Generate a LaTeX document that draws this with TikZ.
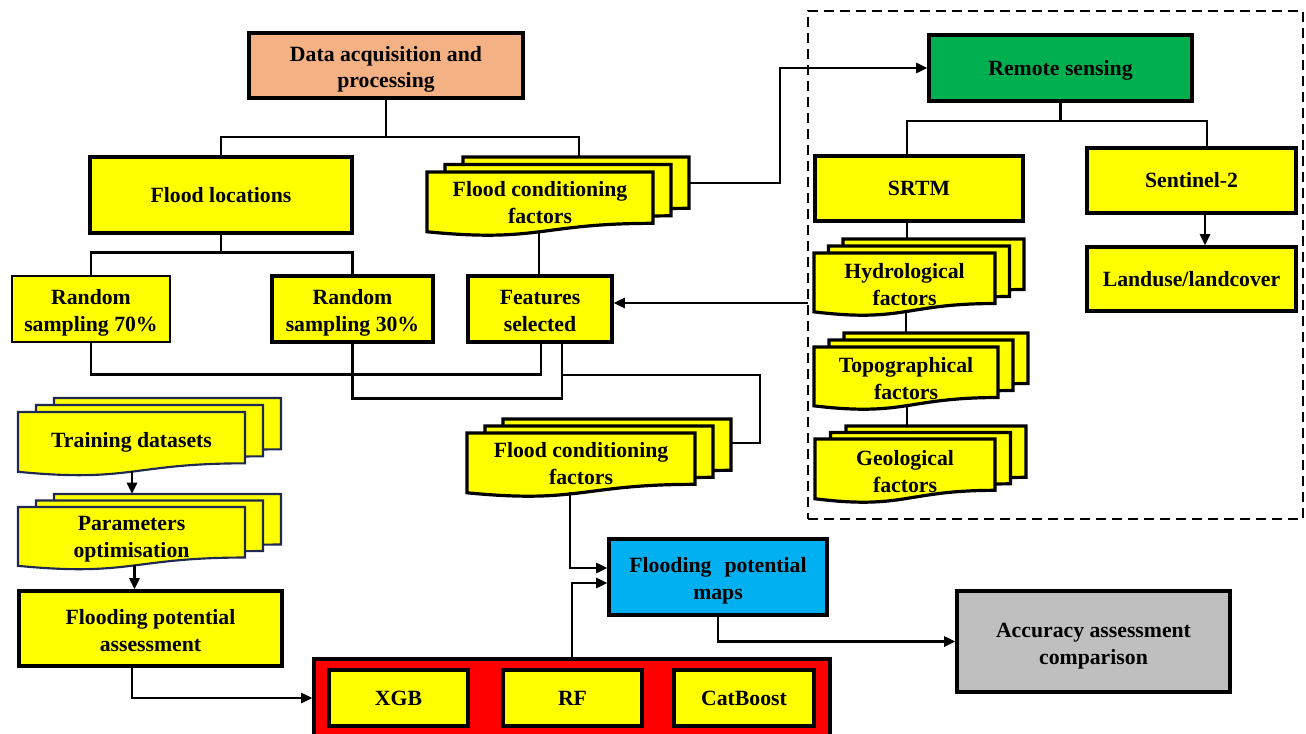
\documentclass[tikz,border=0pt]{standalone}
\usepackage{fontspec}
\setmainfont{Liberation Serif}
\usetikzlibrary{calc,arrows.meta}
\pgfdeclarelayer{docs}
\pgfsetlayers{docs,main}
\definecolor{boxyellow}{RGB}{255,255,0}
\definecolor{peach}{RGB}{244,177,131}
\definecolor{rsgreen}{RGB}{0,176,80}
\definecolor{mapblue}{RGB}{0,176,240}
\definecolor{accgrey}{RGB}{191,191,191}
\definecolor{redbox}{RGB}{255,0,0}
\definecolor{navyline}{RGB}{30,40,80}
\newcommand\linestrut{\rule[-0.216em]{0pt}{1.107em}}
\newcommand\fl{\rule[-0.216em]{0pt}{1.276em}}
% #1 x, #2 top y, #3 w, #4 h, #5 dx, #6 dy, #7 style
\newcommand\docstack[7]{%
  \begin{pgfonlayer}{docs}
  \foreach \k in {2,1,0}{%
    \pgfmathsetmacro\xa{#1+\k*#5}%
    \pgfmathsetmacro\ya{#2+\k*#6}%
    \draw[#7] (\xa,\ya) -- ({\xa+#3},\ya) -- ({\xa+#3},{\ya+0.802*#4})
      .. controls ({\xa+0.5*#3},{\ya+0.802*#4}) and ({\xa+0.5*#3},{\ya+1.1075*#4}) ..
      (\xa,{\ya+0.934*#4}) -- cycle;
  }
  \end{pgfonlayer}}
\begin{document}
\begin{tikzpicture}[x=0.75pt,y=-0.75pt,
  every node/.style={font=\fontsize{16.3}{20}\selectfont\bfseries, align=center, inner sep=0pt,
    execute at begin node=\linestrut, execute at end node=\linestrut},
  box/.style={draw, line width=2.4pt, fill=boxyellow},
  conn/.style={line width=2.1pt},
  arrow/.style={conn, -{Triangle[length=8.5pt,width=7.5pt]}},
  docline/.style={draw, line width=2.4pt, fill=boxyellow, line join=miter},
  docnavy/.style={draw=navyline, line width=1.6pt, fill=boxyellow, line join=miter},
  group/.style={draw, line width=1.3pt, dash pattern=on 7.5pt off 4.5pt},
]
\useasboundingbox (0,0) rectangle (1306,734);

% ---------- nodes ----------
\node[box, fill=peach, minimum width=205.5pt, minimum height=48.75pt] (dap) at (386,65.5) {\fl Data acquisition and\\processing};
\node[box, minimum width=196.5pt, minimum height=57pt] (floc) at (221,195) {Flood locations};
\node[minimum width=169.5pt, minimum height=48pt] (fc1) at (540,201) {\fl Flood conditioning\\factors};

\node[group, minimum width=371.25pt, minimum height=381pt] (rsgroup) at (1055.5,265) {};
\node[box, fill=rsgreen, minimum width=197.25pt, minimum height=49.5pt] (rs) at (1060.5,68) {Remote sensing};
\node[box, minimum width=156pt, minimum height=48.75pt] (srtm) at (919,188.5) {SRTM};
\node[box, minimum width=156.75pt, minimum height=48.75pt] (sent) at (1191.5,180.5) {Sentinel-2};
\node[box, minimum width=156.75pt, minimum height=48pt] (land) at (1191.5,279) {Landuse/landcover};
\node[minimum width=135.75pt, minimum height=47.25pt] (hydro) at (904.5,283) {\fl Hydrological\\factors};
\node[minimum width=138pt, minimum height=47.25pt] (topo) at (906,377) {\fl Topographical\\factors};
\node[minimum width=135pt, minimum height=48pt] (geo) at (905,470) {\fl Geological\\factors};

\node[box, line width=1.8pt, minimum width=118.5pt, minimum height=49.5pt] (rs70) at (91,309) {\fl Random\\sampling 70\%};
\node[box, line width=2.8pt, minimum width=120.75pt, minimum height=49.5pt] (rs30) at (352.5,309) {\fl Random\\sampling 30\%};
\node[box, minimum width=108pt, minimum height=49.5pt] (feat) at (540,309) {\fl Features\\selected};

\node[minimum width=171pt, minimum height=48pt] (fc2) at (581,462) {\fl Flood conditioning\\factors};
\node[minimum width=170.25pt, minimum height=48pt] (train) at (131.5,440.5) {Training datasets};
\node[minimum width=170.25pt, minimum height=47.25pt] (param) at (131.5,535) {\fl Parameters\\optimisation};
\node[box, minimum width=197.25pt, minimum height=56.25pt] (fpa) at (150.5,628.5) {\fl Flooding potential\\assessment};

\node[box, fill=mapblue, minimum width=163.5pt, minimum height=57pt] (fpm) at (718,577) {\fl Flooding\hspace{0.35em} potential\\maps};
\node[box, fill=accgrey, minimum width=204.75pt, minimum height=75.75pt] (acc) at (1093.5,641.5) {\fl Accuracy assessment\\comparison};

\node[box, fill=redbox, minimum width=387pt, minimum height=64.5pt] (red) at (572,702) {};
\node[box, minimum width=104.25pt, minimum height=42pt] (xgb) at (398.5,698) {XGB};
\node[box, minimum width=104.25pt, minimum height=42pt] (rf) at (572.5,698) {RF};
\node[box, minimum width=105pt, minimum height=42pt] (cat) at (744,698) {CatBoost};

% ---------- stacked document shapes ----------
\docstack{427}{172}{226}{64}{18}{-7.5}{docline}
\docstack{467}{433}{228}{64}{18}{-7}{docline}
\docstack{18}{412}{227}{64}{18}{-7}{docnavy}
\docstack{18}{507}{227}{63}{18}{-6.5}{docnavy}
\docstack{814}{253}{181}{63}{14.5}{-7}{docline}
\docstack{814}{347}{184}{63}{15}{-7}{docline}
\docstack{815}{439}{180}{64}{15.5}{-6.5}{docline}

% ---------- connection points ----------
\coordinate (j1) at (386,137);
\coordinate (fc1-top) at (579,157);
\coordinate (fc1-bot) at (539,231);
\coordinate (fc1-right) at (689,183);
\coordinate (j2) at (1060.5,121);
\coordinate (hydro-top) at (907,239);
\coordinate (hydro-bot) at (906,311);
\coordinate (topo-top) at (906,333);
\coordinate (topo-bot) at (907,405);
\coordinate (geo-top) at (907,426);
\coordinate (hyd-link) at (808,303);
\coordinate (j3) at (562,375);
\coordinate (fc2-right) at (731,443);
\coordinate (fc2-bot) at (570,492);
\coordinate (train-bot) at (132,471);
\coordinate (param-top) at (132,494);
\coordinate (param-bot) at (134.5,565);

% ---------- connectors ----------
\draw[conn] (dap.south) -- (j1);
\draw[conn] (floc.north) |- (j1) -| (fc1-top);
\draw[conn] (fc1-bot) -- (fc1-bot |- feat.north);
\draw[arrow] (fc1-right) -- ++(91,0) |- (rs.west);

\draw[conn] (rs.south) -- (j2);
\draw[conn] (srtm.north -| hydro-top) |- (j2) -| ($(sent.north)+(15.5,0)$);
\draw[arrow] ($(sent.south)+(13.5,0)$) -- ($(land.north)+(13.5,0)$);
\draw[conn] (srtm.south -| hydro-top) -- (hydro-top);
\draw[conn] (hydro-bot) -- (topo-top);
\draw[conn] (topo-bot) -- (geo-top);
\draw[arrow] (hyd-link) -- (feat.east |- hyd-link);

\draw[conn] (floc.south) -- ++(0,18) coordinate (j4);
\draw[conn] (rs70.north) |- (j4) -| (rs30.north);
\draw[conn] (rs70.south) -- ++(0,31) -| ($(feat.south)+(1,0)$);
\draw[conn] (rs30.south) -- ++(0,55) -| ($(feat.south)+(22,0)$);
\draw[conn] (j3) -| ($(fc2-right)+(29,0)$) -- (fc2-right);

\draw[arrow] (fc2-bot) |- ($(fpm.west)+(0,-9)$);
\draw[arrow] (red.north) |- ($(fpm.west)+(0,6)$);
\draw[arrow] (fpm.south) |- (acc.west);

\draw[arrow] (train-bot) -- (param-top);
\draw[arrow] (param-bot) -- (param-bot |- fpa.north);
\draw[arrow] ($(fpa.south)+(-18.5,0)$) |- ($(red.west)+(0,-4)$);
\end{tikzpicture}
\end{document}
